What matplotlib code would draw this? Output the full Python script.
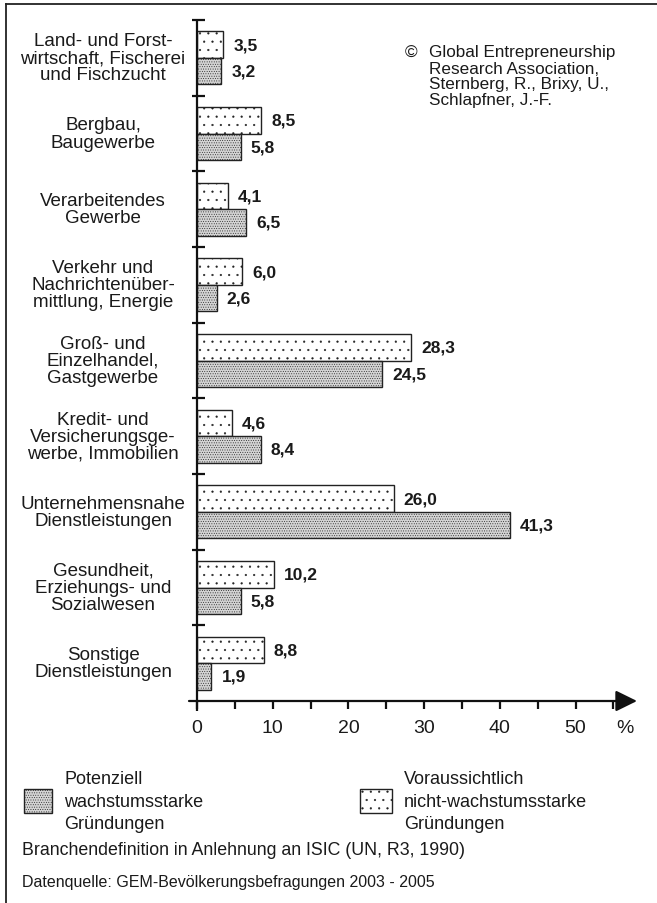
import matplotlib
matplotlib.use("Agg")
import matplotlib.pyplot as plt
from matplotlib.patches import Rectangle
import numpy as np

plt.rcParams['font.family'] = ['Liberation Sans', 'DejaVu Sans']
plt.rcParams['hatch.linewidth'] = 0.35

categories = [
    ["Land- und Forst-", "wirtschaft, Fischerei", "und Fischzucht"],
    ["Bergbau,", "Baugewerbe"],
    ["Verarbeitendes", "Gewerbe"],
    ["Verkehr und", "Nachrichtenüber-", "mittlung, Energie"],
    ["Groß- und", "Einzelhandel,", "Gastgewerbe"],
    ["Kredit- und", "Versicherungsge-", "werbe, Immobilien"],
    ["Unternehmensnahe", "Dienstleistungen"],
    ["Gesundheit,", "Erziehungs- und", "Sozialwesen"],
    ["Sonstige", "Dienstleistungen"],
]
nicht_wachstum = [3.5, 8.5, 4.1, 6.0, 28.3, 4.6, 26.0, 10.2, 8.8]
wachstum = [3.2, 5.8, 6.5, 2.6, 24.5, 8.4, 41.3, 5.8, 1.9]
xticks = [0, 10, 20, 30, 40, 50]
minor_ticks = [5, 15, 25, 35, 45, 55]
legend_labels = [["Potenziell", "wachstumsstarke", "Gründungen"],
                 ["Voraussichtlich", "nicht-wachstumsstarke", "Gründungen"]]
copyright_lines = ["Global Entrepreneurship", "Research Association,",
                   "Sternberg, R., Brixy, U.,", "Schlapfner, J.-F."]
note1 = "Branchendefinition in Anlehnung an ISIC (UN, R3, 1990)"
note2 = "Datenquelle: GEM-Bevölkerungsbefragungen 2003 - 2005"

W, H = 657, 904
DPI = 100
fig = plt.figure(figsize=(W / DPI, H / DPI), dpi=DPI)
fig.patch.set_facecolor('white')

TXT = '#1a1a1a'
DENSE_FC = '#d4d4d4'
DOT_FC = 'white'
DENSE_H = '.......'
DOT_H = '..'


def set_hatch_color(p, c):
    try:
        p.set_hatchcolor(c)
    except Exception:
        pass


# axes: x from pixel 189 to 637, y from 712 (bottom) to 21 (top)
ax_l, ax_r, ax_b, ax_t = 189, 637, 712, 21
ax = fig.add_axes([ax_l / W, 1 - ax_b / H, (ax_r - ax_l) / W, (ax_b - ax_t) / H])
ax.set_axis_off()
xpx = 7.57
ax.set_xlim((ax_l - 197) / xpx, (ax_r - 197) / xpx)
n = len(categories)
ypx = (702 - 21) / n
ax.set_ylim(-(712 - 702) / ypx, n)

bh = 0.35
centers = np.array([n - i - 0.5 for i in range(n)])
b1 = ax.barh(centers + bh / 2, nicht_wachstum, height=bh, color=DOT_FC,
             edgecolor='#222222', linewidth=1.0, hatch=DOT_H, zorder=2)
b2 = ax.barh(centers - bh / 2, wachstum, height=bh, color=DENSE_FC,
             edgecolor='#222222', linewidth=1.0, hatch=DENSE_H, zorder=2)
for p in b1:
    set_hatch_color(p, '#333333')
for p in b2:
    set_hatch_color(p, '#555555')

for c, v1, v2 in zip(centers, nicht_wachstum, wachstum):
    for yy, v in ((c + bh / 2, v1), (c - bh / 2, v2)):
        ax.annotate(f"{v:.1f}".replace('.', ','), xy=(v, yy), xytext=(10, 0),
                    textcoords='offset pixels', ha='left', va='center',
                    fontsize=12.5, fontweight='bold', color=TXT)

# axes lines
lw_ax = 1.6
ax.plot([0, 0], [ax.get_ylim()[0], n], color='#111111', lw=lw_ax,
        clip_on=False, zorder=3, solid_capstyle='butt')
xl = ax.get_xlim()
ax.annotate('', xy=(xl[1], 0), xytext=(xl[0], 0),
            arrowprops=dict(arrowstyle='-|>,head_length=0.65,head_width=0.32',
                            color='#111111', lw=lw_ax, mutation_scale=20,
                            shrinkA=0, shrinkB=0), zorder=3)
# group separator ticks
for k in range(1, n + 1):
    ax.plot([-5 / xpx, 8 / xpx], [k, k], color='#111111', lw=lw_ax,
            clip_on=False, zorder=3, solid_capstyle='butt')
# x ticks
for t in xticks + minor_ticks:
    ax.plot([t, t], [0, -8 / ypx], color='#111111', lw=lw_ax,
            clip_on=False, zorder=3, solid_capstyle='butt')
for t in xticks:
    ax.annotate(str(t), xy=(t, 0), xytext=(0, -27), textcoords='offset pixels',
                ha='center', va='center', fontsize=14, color=TXT)
ax.annotate('%', xy=(56.5, 0), xytext=(0, -27), textcoords='offset pixels',
            ha='center', va='center', fontsize=14, color=TXT)

# category labels
cat_x = 103 / W
step = 17
for c, lines in zip(centers, categories):
    m = len(lines)
    for k, line in enumerate(lines):
        off = -(k - (m - 1) / 2) * step
        ax.annotate(line, xy=(cat_x, c), xycoords=('figure fraction', 'data'),
                    xytext=(0, off), textcoords='offset pixels',
                    ha='center', va='center', fontsize=13.5, color=TXT)

# copyright
fig.text(405 / W, 1 - 53 / H, '©', ha='left', va='center', fontsize=12.3, color=TXT)
for k, line in enumerate(copyright_lines):
    fig.text(429 / W, 1 - (53 + 16 * k) / H, line, ha='left', va='center',
             fontsize=12.3, color=TXT)

# legend
def leg_patch(x0, x1, y0, y1, fc, hatch, hc):
    r = Rectangle((x0 / W, 1 - y1 / H), (x1 - x0) / W, (y1 - y0) / H,
                  transform=fig.transFigure, facecolor=fc, edgecolor='#222222',
                  linewidth=1.0, hatch=hatch)
    set_hatch_color(r, hc)
    fig.patches.append(r)

leg_patch(24, 52, 790, 814, DENSE_FC, DENSE_H, '#555555')
leg_patch(360, 392, 790, 814, DOT_FC, DOT_H, '#333333')
for x0, lines in ((64, legend_labels[0]), (404, legend_labels[1])):
    for k, line in enumerate(lines):
        fig.text(x0 / W, 1 - (780 + 22.5 * k) / H, line, ha='left', va='center',
                 fontsize=13, color=TXT)

fig.text(22 / W, 1 - 851 / H, note1, ha='left', va='center', fontsize=12.8, color=TXT)
fig.text(22 / W, 1 - 883 / H, note2, ha='left', va='center', fontsize=11.5, color=TXT)

# frame (top and left)
fig.add_artist(plt.Line2D([6 / W, 1], [1 - 5 / H, 1 - 5 / H], transform=fig.transFigure,
                          color='#222222', lw=1.3))
fig.add_artist(plt.Line2D([6 / W, 6 / W], [0, 1 - 5 / H], transform=fig.transFigure,
                          color='#222222', lw=1.3))

fig.savefig('out.png', dpi=DPI, facecolor='white')
